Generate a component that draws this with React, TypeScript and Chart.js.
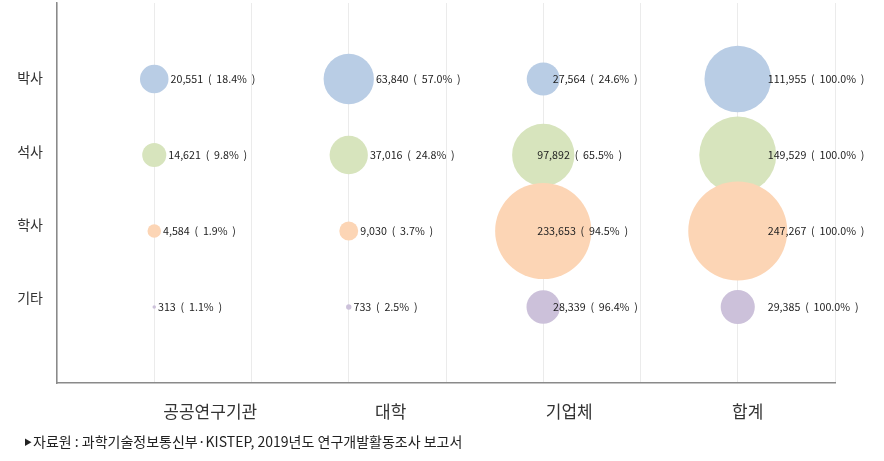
import React, { useEffect, useRef } from "react";
import { Chart, registerables } from "chart.js";

Chart.register(...registerables);

// ---- data ----
const sectors = ["공공연구기관", "대학", "기업체", "합계"];
const degrees = ["박사", "석사", "학사", "기타"];
const doctorCounts = [20551, 63840, 27564, 111955];
const masterCounts = [14621, 37016, 97892, 149529];
const bachelorCounts = [4584, 9030, 233653, 247267];
const otherCounts = [313, 733, 28339, 29385];
const doctorShares = [18.4, 57.0, 24.6, 100.0];
const masterShares = [9.8, 24.8, 65.5, 100.0];
const bachelorShares = [1.9, 3.7, 94.5, 100.0];
const otherShares = [1.1, 2.5, 96.4, 100.0];
const sourceMark = "▶";
const sourceNote = "자료원 : 과학기술정보통신부·KISTEP, 2019년도 연구개발활동조사 보고서";

// ---- styles / layout ----
const rowColors = ["#b9cde5", "#d7e4bd", "#fcd5b5", "#ccc1da"];
const MAX_R = 49.5;
const FONT = '"Noto Sans CJK KR", "Noto Sans", sans-serif';
const xLabelShift = [56, 42, 26, 10];
const yLabelShift = [-1, -3, -6, -9];

const countsByRow = [doctorCounts, masterCounts, bachelorCounts, otherCounts];
const sharesByRow = [doctorShares, masterShares, bachelorShares, otherShares];

function labelDx(col: number, r: number) {
  if (col === 3) return 30;
  if (col === 2) return r > 25 ? -6 : r - 7;
  return r + 2;
}

export default function App() {
  const ref = useRef<HTMLCanvasElement>(null);
  useEffect(() => {
    document.body.style.margin = "0";
    const canvas = ref.current!;
    const maxV = Math.max(...countsByRow.flat());
    const datasets = degrees.map((d, ri) => ({
      label: d,
      data: countsByRow[ri].map((v, ci) => ({
        x: ci * 2 + 1,
        y: degrees.length - ri,
        r: MAX_R * Math.sqrt(v / maxV),
      })),
      backgroundColor: rowColors[ri],
      borderWidth: 0,
      hoverBorderWidth: 0,
      order: degrees.length - ri,
    }));

    const labelPlugin = {
      id: "labels",
      afterDatasetsDraw(chart: any) {
        const ctx = chart.ctx;
        const xs = chart.scales.x;
        const ys = chart.scales.y;
        ctx.save();
        // bubble labels
        ctx.font = `10.7px ${FONT}`;
        ctx.fillStyle = "#222";
        ctx.textBaseline = "middle";
        ctx.textAlign = "left";
        degrees.forEach((_, ri) => {
          const meta = chart.getDatasetMeta(ri);
          meta.data.forEach((el: any, ci: number) => {
            const r = el.options.radius;
            const v = countsByRow[ri][ci];
            const p = sharesByRow[ri][ci];
            const txt = `${v.toLocaleString("en-US")}  (  ${p.toFixed(1)}%  )`;
            ctx.fillText(txt, el.x + labelDx(ci, r), el.y);
          });
        });
        // category labels
        ctx.font = `17px ${FONT}`;
        ctx.fillStyle = "#333";
        ctx.textAlign = "center";
        sectors.forEach((s, ci) => {
          ctx.fillText(s, xs.getPixelForValue(ci * 2 + 1) + xLabelShift[ci], 412);
        });
        // degree labels
        ctx.font = `14px ${FONT}`;
        ctx.textAlign = "right";
        degrees.forEach((d, ri) => {
          ctx.fillText(d, 43, ys.getPixelForValue(degrees.length - ri) + yLabelShift[ri]);
        });
        // source note
        ctx.textAlign = "left";
        ctx.fillStyle = "#222";
        ctx.font = `8px ${FONT}`;
        ctx.fillText(sourceMark, 24, 442);
        ctx.font = `14px ${FONT}`;
        ctx.fillText(sourceNote, 33, 442);
        ctx.restore();
      },
    };

    const chart = new Chart(canvas, {
      type: "bubble",
      data: { datasets },
      options: {
        responsive: false,
        animation: false,
        layout: { autoPadding: false, padding: { top: 3, right: 49, left: 0, bottom: 0 } },
        plugins: { legend: { display: false }, tooltip: { enabled: false } },
        scales: {
          x: {
            type: "linear",
            min: 0,
            max: 8,
            ticks: { display: false, stepSize: 1 },
            grid: { color: "#ebebeb", drawTicks: false, lineWidth: 1 },
            border: { display: true, color: "#8a8a8a", width: 1.5 },
            afterFit: (s: any) => {
              s.height = 78;
            },
          },
          y: {
            type: "linear",
            min: 0,
            max: 5,
            ticks: { display: false, stepSize: 1 },
            grid: { display: false, drawTicks: false },
            border: { display: true, color: "#8a8a8a", width: 1.5 },
            afterFit: (s: any) => {
              s.width = 57;
            },
          },
        },
      },
      plugins: [labelPlugin],
    } as any);
    return () => chart.destroy();
  }, []);
  return (
    <div style={{ width: 884, height: 461 }}>
      <canvas ref={ref} width={884} height={461} style={{ display: "block" }} />
    </div>
  );
}
